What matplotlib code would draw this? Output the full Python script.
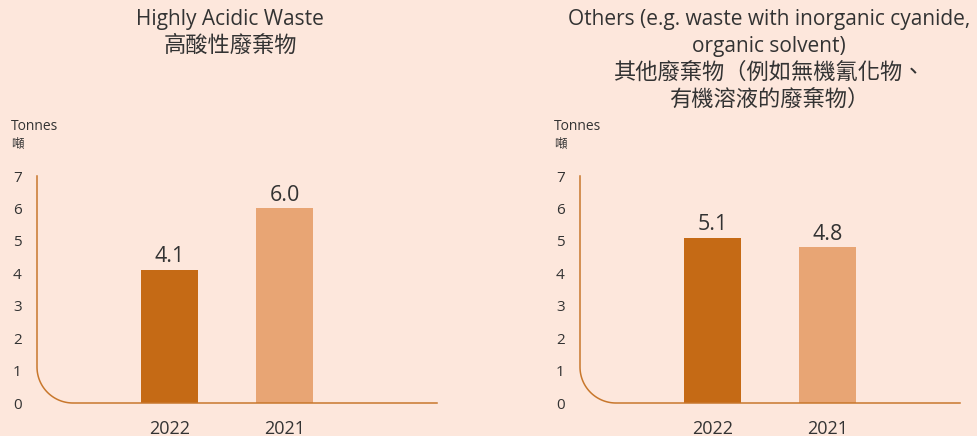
import numpy as np
import matplotlib
matplotlib.use("Agg")
from matplotlib import pyplot as plt

plt.rcParams['font.family'] = ['Open Sans', 'Noto Sans CJK TC', 'DejaVu Sans']

# data
years = ['2022', '2021']
acidic = [4.1, 6.0]
others = [5.1, 4.8]
yticks = [0, 1, 2, 3, 4, 5, 6, 7]
title_left_en = ['Highly Acidic Waste']
title_left_zh = ['高酸性廢棄物']
title_right_en = ['Others (e.g. waste with inorganic cyanide,', 'organic solvent)']
title_right_zh = ['其他廢棄物（例如無機氰化物、', '有機溶液的廢棄物）']

BG = '#FDE7DC'
DARK = '#C56A15'
LIGHT = '#E8A574'
AXIS = '#C8772C'
TXT = '#333333'

W, H = 978, 436
fig = plt.figure(figsize=(W / 100, H / 100), dpi=100, facecolor=BG)


def px(x, y):
    return x / W, 1 - y / H


def panel(x0, x1, values, title_en, title_zh, title_x, unit_x):
    # axes box in pixels: left, right, top(7), bottom(0)
    top, bot = 176, 403
    ax = fig.add_axes([x0 / W, 1 - bot / H, (x1 - x0) / W, (bot - top) / H])
    ax.set_facecolor(BG)
    spacing = 115.0
    xl = 1 - (169.5 - 37) / spacing
    xr = xl + (x1 - x0) / spacing
    ax.set_xlim(xl, xr)
    ax.set_ylim(0, 7)
    for s in ax.spines.values():
        s.set_visible(False)

    pos = np.arange(1, len(values) + 1)
    bars = ax.bar(pos, values, width=0.5, color=[DARK, LIGHT], zorder=3)
    for b, v in zip(bars, values):
        ax.annotate(f'{v:.1f}', (b.get_x() + b.get_width() / 2, v),
                    xytext=(0, 2), textcoords='offset points',
                    ha='center', va='bottom', fontsize=15.5, color=TXT)

    # rounded L-shaped axis line
    rx = 36 / spacing
    ry = 36 / ((bot - top) / 7)
    t = np.linspace(np.pi, 1.5 * np.pi, 40)
    ax_x = np.concatenate([[xl], xl + rx + rx * np.cos(t), [xr]])
    ax_y = np.concatenate([[7], ry + ry * np.sin(t), [0]])
    ax.plot(ax_x, ax_y, color=AXIS, lw=1.1, clip_on=False, zorder=4)

    ax.set_yticks(yticks)
    ax.set_xticks(pos)
    ax.set_xticklabels(years)
    ax.tick_params(axis='y', length=0, pad=11, labelsize=11, labelcolor=TXT)
    ax.tick_params(axis='x', length=0, pad=12, labelsize=13, labelcolor=TXT)

    y = 20
    for line in title_en:
        fig.text(*px(title_x, y), line, ha='center', va='center', fontsize=15, color=TXT)
        y += 26.7
    for line in title_zh:
        fig.text(*px(title_x, y), line, ha='center', va='center', fontsize=16, color=TXT)
        y += 26.7
    fig.text(*px(unit_x, 127), 'Tonnes', ha='left', va='center', fontsize=10, color=TXT)
    fig.text(*px(unit_x, 144), '噸', ha='left', va='center', fontsize=9, color=TXT)
    return ax


panel(37, 437, acidic, title_left_en, title_left_zh, 230, 11)
panel(580, 960, others, title_right_en, title_right_zh, 769, 554)

fig.savefig('out.png', dpi=100, facecolor=BG)
